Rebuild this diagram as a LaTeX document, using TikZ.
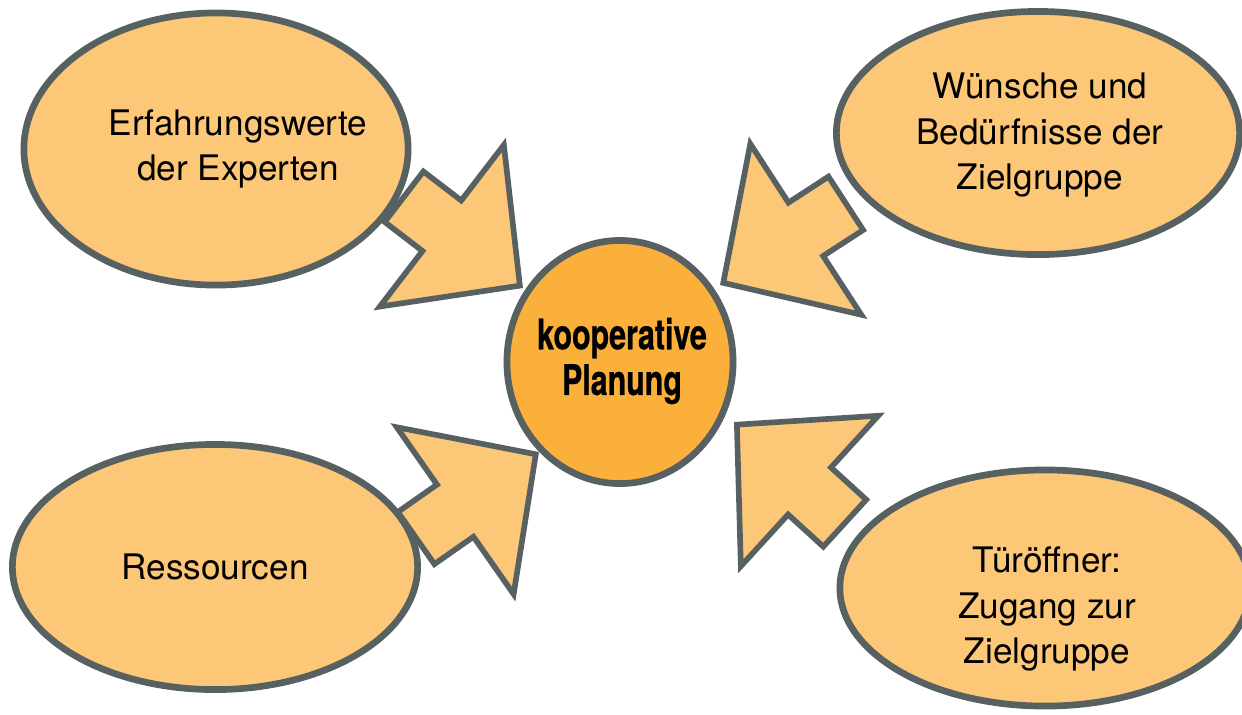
\documentclass[tikz,border=0pt]{standalone}
\usepackage{fontspec}
\setmainfont{TeX Gyre Heros}
\newfontfamily\schmalfont[FakeStretch=0.72,BoldFeatures={FakeBold=0.6}]{TeX Gyre Heros}
\usetikzlibrary{shapes.geometric,shapes.arrows}

\definecolor{blasenorange}{RGB}{253,199,120}
\definecolor{kernorange}{RGB}{251,176,59}
\definecolor{randgrau}{RGB}{88,97,98}

\tikzset{
  blase/.style={ellipse,draw=randgrau,line width=1.9pt,fill=blasenorange,inner sep=0pt},
  beschriftung/.style={align=center,font=\fontsize{10}{13}\selectfont},
  pfeil/.style={single arrow,draw=randgrau,line width=1.6pt,fill=blasenorange,
    single arrow head extend=0.7cm,single arrow tip angle=92,
    inner xsep=0.2cm,inner ysep=0.29cm,minimum height=1.46cm,anchor=tip}
}

\begin{document}
\begin{tikzpicture}[x=0.01cm,y=0.01cm]
          \useasboundingbox (0,0) rectangle (1242,-714);
          \node[pfeil,rotate=-37.5] (I1) at (523,-288) {};
          \node[pfeil,rotate=-147] (I2) at (720,-285) {};
          \node[pfeil,rotate=35] (I3) at (539,-452) {};
          \node[pfeil,rotate=137.6] (I4) at (734,-422) {};
          \node[blase,minimum width=3.84cm,minimum height=2.72cm] (erf) at (216,-149) {};
          \node[blase,minimum width=4.03cm,minimum height=2.43cm] (wunsch) at (1038,-133) {};
          \node[blase,minimum width=4.05cm,minimum height=2.45cm] (res) at (215,-567) {};
          \node[blase,minimum width=4.10cm,minimum height=2.36cm] (tuer) at (1045,-588) {};
          \node[blase,fill=kernorange,minimum width=2.26cm,minimum height=2.43cm] (koop) at (620,-362) {};
          \node[beschriftung] (erfT) at ([shift={(22,0)}]erf) {Erfahrungswerte\\der Experten};
          \node[beschriftung] (wunschT) at ([shift={(2,-2)}]wunsch) {Wünsche und\\Bedürfnisse der\\Zielgruppe};
          \node[beschriftung] (resT) at (res) {Ressourcen};
          \node[beschriftung] (tuerT) at ([shift={(2,-21)}]tuer) {Türöffner:\\Zugang zur\\Zielgruppe};
          \node[align=center,font=\schmalfont\bfseries\fontsize{12}{13}\selectfont] (koopT) at ([shift={(2,1)}]koop) {kooperative\\Planung};
        \end{tikzpicture}
\end{document}
